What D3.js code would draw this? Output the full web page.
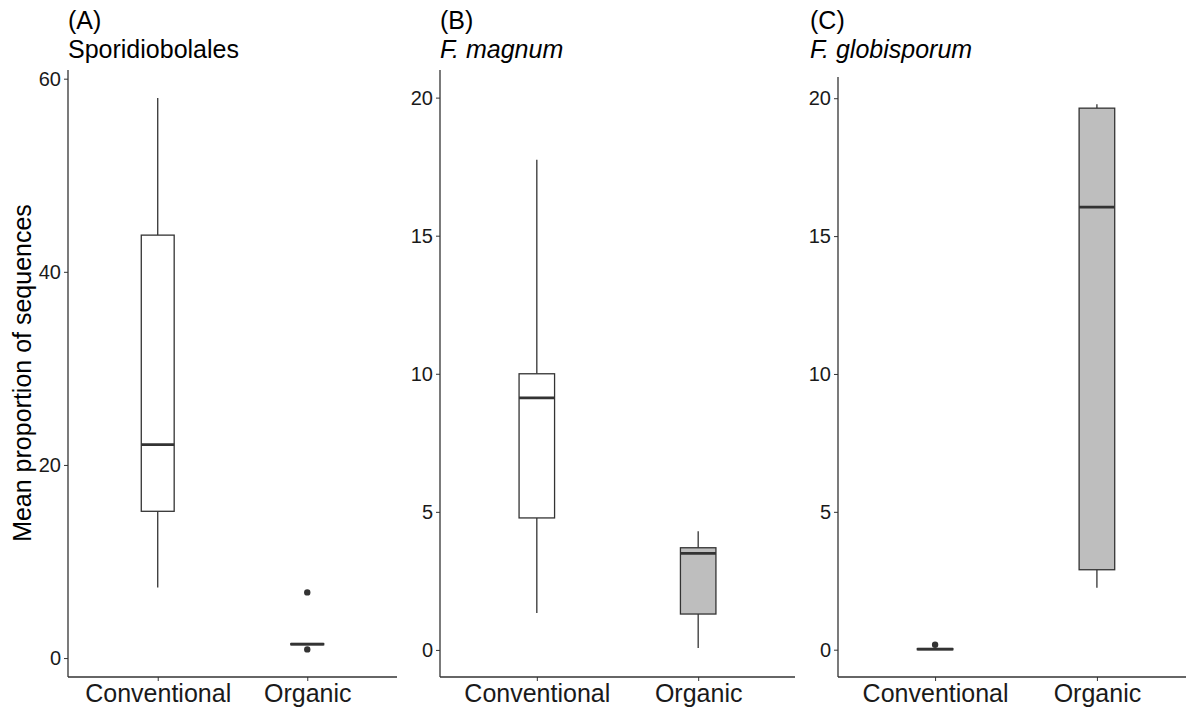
<!DOCTYPE html>
<html><head><meta charset="utf-8">
<script src="https://cdn.jsdelivr.net/npm/d3@7"></script>
<style>body{margin:0;background:#fff;} text{font-family:Arial,"Liberation Sans",sans-serif;}</style>
</head><body>
<svg id="chart" width="1186" height="709"></svg>
<script>
const categories = ["Conventional", "Organic"];
const panelLabels = ["(A)", "(B)", "(C)"];
const panelTitles = ["Sporidiobolales", "F. magnum", "F. globisporum"];
const titleItalic = [false, true, true];
const yLabel = "Mean proportion of sequences";
const yTicksA = [0, 20, 40, 60];
const yTicksB = [0, 5, 10, 15, 20];
const yTicksC = [0, 5, 10, 15, 20];
// box stats: [whiskerLow, q1, median, q3, whiskerHigh]
const boxA_Conventional = [7.3, 15.2, 22.1, 43.8, 58.0];
const boxA_Organic = [1.35, 1.38, 1.45, 1.5, 1.55];
const boxB_Conventional = [1.34, 4.78, 9.13, 10.0, 17.75];
const boxB_Organic = [0.07, 1.3, 3.5, 3.7, 4.3];
const boxC_Conventional = [0.0, 0.0, 0.02, 0.04, 0.06];
const boxC_Organic = [2.25, 2.9, 16.05, 19.64, 19.78];
// outliers
const outA_Conventional = [];
const outA_Organic = [6.8, 0.9];
const outB_Conventional = [];
const outB_Organic = [];
const outC_Conventional = [0.18];
const outC_Organic = [];
const yDomainA = [-1.96, 60.9];
const yDomainB = [-0.98, 21.0];
const yDomainC = [-0.99, 20.77];
const fills = ["#ffffff", "#bebebe"];

const panels = [
  {label: panelLabels[0], title: panelTitles[0], italic: titleItalic[0], ticks: yTicksA, dom: yDomainA,
   boxes: [boxA_Conventional, boxA_Organic], outs: [outA_Conventional, outA_Organic],
   x0: 68, x1: 397, yTop: 70, titleX: 68},
  {label: panelLabels[1], title: panelTitles[1], italic: titleItalic[1], ticks: yTicksB, dom: yDomainB,
   boxes: [boxB_Conventional, boxB_Organic], outs: [outB_Conventional, outB_Organic],
   x0: 440, x1: 795, yTop: 70, titleX: 440},
  {label: panelLabels[2], title: panelTitles[2], italic: titleItalic[2], ticks: yTicksC, dom: yDomainC,
   boxes: [boxC_Conventional, boxC_Organic], outs: [outC_Conventional, outC_Organic],
   x0: 838, x1: 1194, yTop: 77, titleX: 810}
];
const yBottom = 677;
const svg = d3.select("#chart");
const ink = "#333333";

panels.forEach(p => {
  const g = svg.append("g");
  const x = d3.scalePoint().domain(categories).range([p.x0, p.x1]).padding(0.6);
  const y = d3.scaleLinear().domain(p.dom).range([yBottom, p.yTop]);
  const step = x.step();
  const bw = step * 0.22;

  // axes
  const ya = g.append("g").attr("transform", `translate(${p.x0},0)`)
    .call(d3.axisLeft(y).tickValues(p.ticks).tickSize(4).tickPadding(3).tickFormat(d3.format("d")));
  ya.select(".domain").remove();
  ya.selectAll(".tick line").attr("stroke", ink).attr("stroke-width", 1);
  ya.selectAll(".tick text").attr("font-size", 20).attr("fill", "#1a1a1a");
  g.append("line").attr("x1", p.x0).attr("x2", p.x0).attr("y1", p.yTop).attr("y2", yBottom)
    .attr("stroke", ink).attr("stroke-width", 1.3);

  const xa = g.append("g").attr("transform", `translate(0,${yBottom})`)
    .call(d3.axisBottom(x).tickSize(4).tickPadding(3));
  xa.select(".domain").remove();
  xa.selectAll(".tick line").attr("stroke", ink).attr("stroke-width", 1);
  xa.selectAll(".tick text").attr("font-size", 25).attr("fill", "#1a1a1a").attr("dy", "0.71em");
  g.append("line").attr("x1", p.x0).attr("x2", p.x1).attr("y1", yBottom).attr("y2", yBottom)
    .attr("stroke", ink).attr("stroke-width", 1.3);

  // boxes
  categories.forEach((c, i) => {
    const b = p.boxes[i];
    const cx = x(c);
    g.append("line").attr("x1", cx).attr("x2", cx).attr("y1", y(b[0])).attr("y2", y(b[1]))
      .attr("stroke", ink).attr("stroke-width", 1.3);
    g.append("line").attr("x1", cx).attr("x2", cx).attr("y1", y(b[3])).attr("y2", y(b[4]))
      .attr("stroke", ink).attr("stroke-width", 1.3);
    g.append("rect").attr("x", cx - bw / 2).attr("width", bw)
      .attr("y", y(b[3])).attr("height", Math.max(0, y(b[1]) - y(b[3])))
      .attr("fill", fills[i]).attr("stroke", ink).attr("stroke-width", 1.3);
    g.append("line").attr("x1", cx - bw / 2).attr("x2", cx + bw / 2).attr("y1", y(b[2])).attr("y2", y(b[2]))
      .attr("stroke", ink).attr("stroke-width", 2.8);
    p.outs[i].forEach(v => {
      g.append("circle").attr("cx", cx).attr("cy", y(v)).attr("r", 3.2).attr("fill", ink);
    });
  });

  // titles
  g.append("text").attr("x", p.titleX).attr("y", 29).attr("font-size", 25).attr("fill", "#000").text(p.label);
  g.append("text").attr("x", p.titleX).attr("y", 58).attr("font-size", 25).attr("fill", "#000")
    .attr("font-style", p.italic ? "italic" : "normal").text(p.title);
});

svg.append("text").attr("transform", "translate(31,373) rotate(-90)")
  .attr("text-anchor", "middle").attr("font-size", 25).attr("fill", "#000").text(yLabel);
</script>
</body></html>
